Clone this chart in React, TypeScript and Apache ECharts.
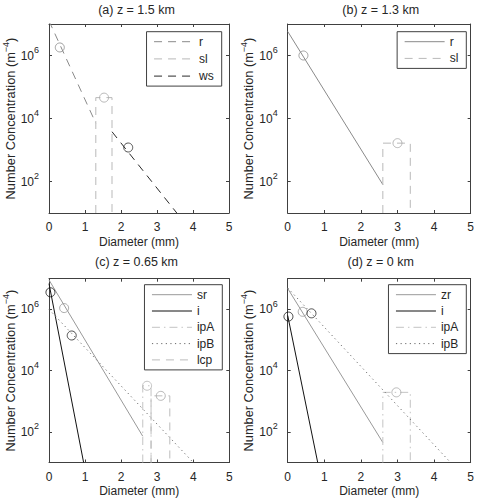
import { useEffect, useRef } from 'react';
import * as echarts from 'echarts';

// Axis ticks
const diameterTicks = [0, 1, 2, 3, 4, 5];
const concentrationTicks = [1e2, 1e4, 1e6];
const concentrationRange = [1e1, 1e7];

const panelTitles = ['(a) z = 1.5 km', '(b) z = 1.3 km', '(c) z = 0.65 km', '(d) z = 0 km'];

// (a) z = 1.5 km : exponential fits are straight on the semilog axes, so the ends suffice
const aRainLine = [[0, 1.26e7], [1.3, 7.1e3]];
const aRainMean = [0.3, 1.8e6];
const aSleetBin = [1.3, 1.75, 4.6e4]; // left edge, right edge, level
const aSleetMean = [1.53, 4.6e4];
const aWetSnowLine = [[1.75, 3.8e3], [3.55, 10]];
const aWetSnowMean = [2.2, 1.2e3];

// (b) z = 1.3 km
const bRainLine = [[0, 5.8e6], [2.6, 80]];
const bRainMean = [0.43, 1.0e6];
const bSleetBin = [2.6, 3.35, 1.65e3];
const bSleetMean = [3.0, 1.65e3];

// (c) z = 0.65 km
const cSnowRainLine = [[0, 9.1e6], [2.6, 72]];
const cSnowRainMean = [0.42, 1.1e6];
const cIceLine = [[0, 6.9e6], [0.96, 10]];
const cIceMean = [0.04, 3.6e6];
const cIpABin = [2.6, 2.83, 3.2e3];
const cIpAMean = [2.72, 3.2e3];
const cIpBLine = [[0, 1.0e6], [4.0, 10]];
const cIpBMean = [0.63, 1.4e5];
const cLcpBin = [2.83, 3.35, 1.5e3];
const cLcpMean = [3.1, 1.5e3];

// (d) z = 0 km
const dZrLine = [[0, 4.8e6], [2.6, 45]];
const dZrMean = [0.41, 8.3e5];
const dIceLine = [[0, 6.3e5], [0.82, 10]];
const dIceMean = [0.02, 5.8e5];
const dIpABin = [2.6, 3.35, 1.95e3];
const dIpAMean = [2.97, 1.95e3];
const dIpBLine = [[0, 5.0e6], [4.45, 10]];
const dIpBMean = [0.65, 7.4e5];

const FONT = '"Liberation Sans", Arial, Helvetica, sans-serif';
const INK = '#262626';
const FRAME = '#404040';

const DASH = [8, 6];
const DOT = [1.2, 3.4];
const DASHDOT = [8, 4, 1.5, 4];

const GRID_BOXES = [
  { left: 44, top: 24, width: 185, height: 189 },
  { left: 287.7, top: 24, width: 186, height: 189 },
  { left: 43.7, top: 278.7, width: 185.6, height: 188.3 },
  { left: 287.7, top: 278.7, width: 186, height: 188.3 },
];

const LEGEND_BOXES = [
  { right: 255.3, top: 31.7, itemGap: 5.2 },
  { right: 10.7, top: 31.7, itemGap: 4.7 },
  { right: 254.7, top: 284.7, itemGap: 4.3 },
  { right: 10.7, top: 284.7, itemGap: 4.3 },
];

type Dash = 'solid' | number[];
type Curve = { key: string; data: number[][]; color: string; dash: Dash };
type Mean = { point: number[]; color: string };

// A size bin drawn as an open box: up the left edge, across the level, down the right edge.
const binBox = (bin: number[]) => [
  [bin[0], concentrationRange[0]],
  [bin[0], bin[2]],
  [bin[1], bin[2]],
  [bin[1], concentrationRange[0]],
];

const panels: { curves: Curve[]; means: Mean[] }[] = [
  {
    curves: [
      { key: 'r', data: aRainLine, color: '#8a8a8a', dash: DASH },
      { key: 'sl', data: binBox(aSleetBin), color: '#b9b9b9', dash: DASH },
      { key: 'ws', data: aWetSnowLine, color: '#2a2a2a', dash: DASH },
    ],
    means: [
      { point: aRainMean, color: '#8a8a8a' },
      { point: aSleetMean, color: '#a8a8a8' },
      { point: aWetSnowMean, color: '#2a2a2a' },
    ],
  },
  {
    curves: [
      { key: 'r', data: bRainLine, color: '#8a8a8a', dash: 'solid' },
      { key: 'sl', data: binBox(bSleetBin), color: '#b9b9b9', dash: DASH },
    ],
    means: [
      { point: bRainMean, color: '#8a8a8a' },
      { point: bSleetMean, color: '#a8a8a8' },
    ],
  },
  {
    curves: [
      { key: 'sr', data: cSnowRainLine, color: '#999999', dash: 'solid' },
      { key: 'i', data: cIceLine, color: '#111111', dash: 'solid' },
      { key: 'ipA', data: binBox(cIpABin), color: '#c4c4c4', dash: DASHDOT },
      { key: 'ipB', data: cIpBLine, color: '#6a6a6a', dash: DOT },
      { key: 'lcp', data: binBox(cLcpBin), color: '#bcbcbc', dash: DASH },
    ],
    means: [
      { point: cSnowRainMean, color: '#999999' },
      { point: cIceMean, color: '#111111' },
      { point: cIpAMean, color: '#b4b4b4' },
      { point: cIpBMean, color: '#222222' },
      { point: cLcpMean, color: '#a8a8a8' },
    ],
  },
  {
    curves: [
      { key: 'zr', data: dZrLine, color: '#999999', dash: 'solid' },
      { key: 'i', data: dIceLine, color: '#111111', dash: 'solid' },
      { key: 'ipA', data: binBox(dIpABin), color: '#c4c4c4', dash: DASHDOT },
      { key: 'ipB', data: dIpBLine, color: '#6a6a6a', dash: DOT },
    ],
    means: [
      { point: dZrMean, color: '#999999' },
      { point: dIceMean, color: '#111111' },
      { point: dIpAMean, color: '#a8a8a8' },
      { point: dIpBMean, color: '#222222' },
    ],
  },
];

const seriesName = (p: number, key: string) => `${p}|${key}`;

function buildOption() {
  const grid: any[] = [];
  const xAxis: any[] = [];
  const yAxis: any[] = [];
  const series: any[] = [];
  const legend: any[] = [];
  const title: any[] = [];

  const tickStyle = { color: FRAME, width: 1 };

  panels.forEach((panel, p) => {
    const box = GRID_BOXES[p];
    grid.push({ ...box, containLabel: false });

    title.push({
      text: panelTitles[p],
      left: box.left + box.width / 2,
      top: p < 2 ? 3 : 255.5,
      textAlign: 'center',
      padding: 0,
      textStyle: { fontFamily: FONT, fontSize: 12.5, fontWeight: 'normal', color: INK },
    });

    const xBase = {
      type: 'value',
      gridIndex: p,
      min: diameterTicks[0],
      max: diameterTicks[diameterTicks.length - 1],
      interval: 1,
      axisLine: { show: true, onZero: false, lineStyle: tickStyle },
      axisTick: { show: true, inside: true, length: 3, lineStyle: tickStyle },
      splitLine: { show: false },
    };
    xAxis.push({
      ...xBase,
      position: 'bottom',
      axisLabel: { color: INK, fontFamily: FONT, fontSize: 12, margin: 8 },
      name: 'Diameter (mm)',
      nameLocation: 'middle',
      nameGap: 22.5,
      nameTextStyle: { color: INK, fontFamily: FONT, fontSize: 12 },
    });
    xAxis.push({ ...xBase, position: 'top', axisLabel: { show: false } });

    const yBase = {
      type: 'log',
      logBase: 10,
      gridIndex: p,
      min: concentrationRange[0],
      max: concentrationRange[1],
      axisLine: { show: true, onZero: false, lineStyle: tickStyle },
      axisTick: { show: true, inside: true, length: 3, lineStyle: tickStyle, customValues: concentrationTicks },
      minorTick: { show: false },
      splitLine: { show: false },
    };
    yAxis.push({
      ...yBase,
      position: 'left',
      axisLabel: {
        customValues: concentrationTicks,
        margin: 10,
        formatter: (v: number) => `{b|10}{s|${Math.round(Math.log10(v))}}`,
        rich: {
          b: { fontFamily: FONT, fontSize: 12, color: INK, lineHeight: 20 },
          s: { fontFamily: FONT, fontSize: 9, color: INK, lineHeight: 9, verticalAlign: 'top' },
        },
      },
      name: '{a|Number Concentration (m}{s|−4}{a|)}',
      nameLocation: 'middle',
      nameGap: 30,
      nameTextStyle: {
        rich: {
          a: { fontFamily: FONT, fontSize: 12.8, color: INK, lineHeight: 18 },
          s: { fontFamily: FONT, fontSize: 9, color: INK, lineHeight: 9, verticalAlign: 'top' },
        },
      },
    });
    yAxis.push({ ...yBase, position: 'right', axisLabel: { show: false } });

    panel.curves.forEach((c) => {
      series.push({
        type: 'line',
        name: seriesName(p, c.key),
        xAxisIndex: p * 2,
        yAxisIndex: p * 2,
        data: c.data,
        symbol: 'none',
        clip: true,
        silent: true,
        lineStyle: { color: c.color, width: 1, type: c.dash },
        itemStyle: { color: c.color },
        z: 2,
      });
    });

    panel.means.forEach((m) => {
      series.push({
        type: 'scatter',
        xAxisIndex: p * 2,
        yAxisIndex: p * 2,
        data: [m.point],
        symbol: 'circle',
        symbolSize: 9,
        silent: true,
        itemStyle: { color: 'transparent', borderColor: m.color, borderWidth: 1 },
        z: 3,
      });
    });

    const lb = LEGEND_BOXES[p];
    legend.push({
      data: panel.curves.map((c) => seriesName(p, c.key)),
      formatter: (name: string) => name.split('|')[1],
      orient: 'vertical',
      right: lb.right,
      top: lb.top,
      itemWidth: 40,
      itemHeight: 12,
      itemGap: lb.itemGap,
      padding: [4, 8, 4, 7],
      borderColor: FRAME,
      borderWidth: 1,
      borderRadius: 0,
      backgroundColor: '#ffffff',
      selectedMode: false,
      itemStyle: { color: 'transparent', borderWidth: 0 },
      lineStyle: { width: 1 },
      textStyle: { fontFamily: FONT, fontSize: 12, color: INK },
      z: 5,
    });
  });

  return {
    animation: false,
    backgroundColor: '#ffffff',
    title,
    grid,
    xAxis,
    yAxis,
    legend,
    series,
  };
}

export default function App() {
  const ref = useRef<HTMLDivElement>(null);
  useEffect(() => {
    if (!ref.current) return;
    const chart = echarts.init(ref.current, undefined, { renderer: 'svg', width: 477, height: 498 });
    chart.setOption(buildOption() as any);
    return () => chart.dispose();
  }, []);
  return (
    <div
      ref={ref}
      style={{ position: 'fixed', left: 0, top: 0, width: 477, height: 498, background: '#ffffff' }}
    />
  );
}
